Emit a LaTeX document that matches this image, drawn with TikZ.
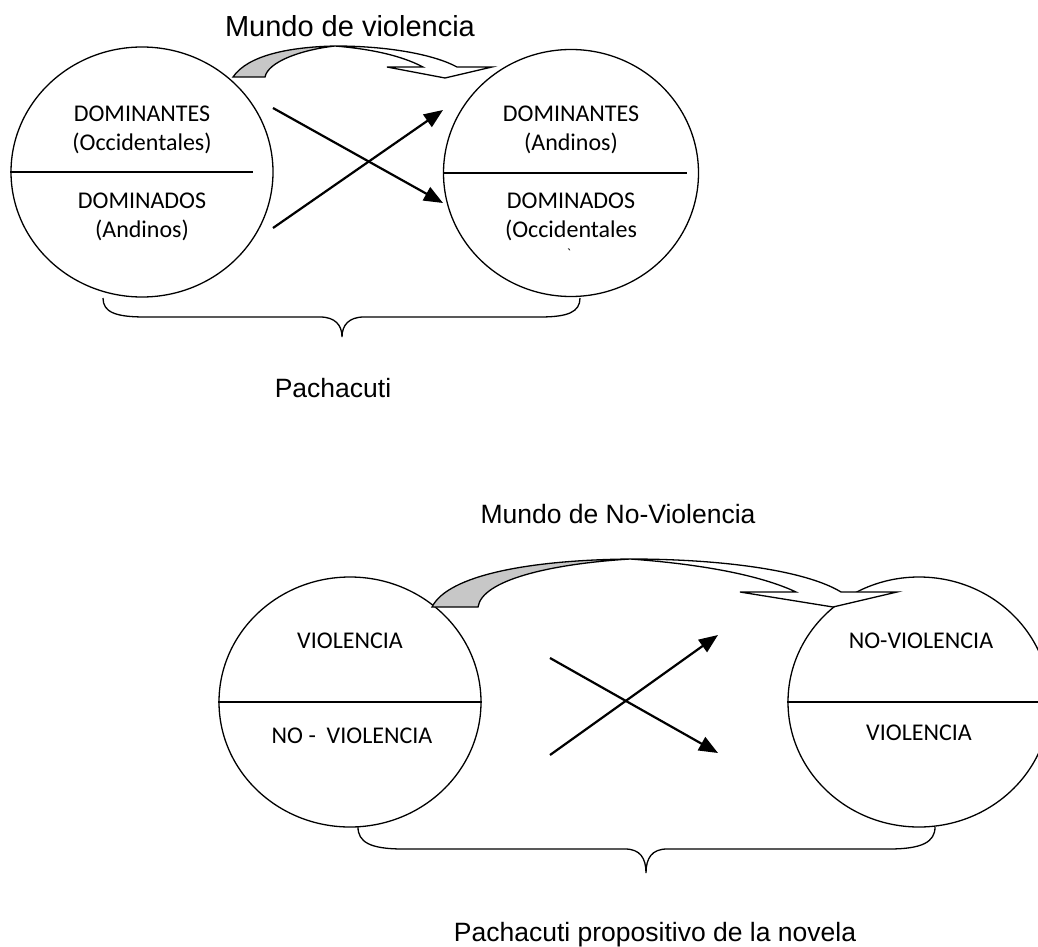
\documentclass[tikz,border=0pt]{standalone}
\usepackage{fontspec}
\setmainfont{Liberation Sans}
\newfontfamily\calibri[Ligatures=TeXOff]{Carlito}
\usetikzlibrary{shapes.geometric,arrows.meta}
\tikzset{
  mundo/.style={draw, ellipse, line width=1.3pt, inner sep=0pt},
  parte/.style={font=\calibri\fontsize{24}{28.5}\selectfont, align=center},
  titulo/.style={font=\fontsize{26.5}{30}\selectfont, anchor=base},
  cruce/.style={line width=2.2pt, -{Triangle[length=19pt,width=15pt]}},
  llave/.style={line width=1.3pt},
  giro/.style={line width=1.3pt, line join=miter}
}
\begin{document}
\begin{tikzpicture}[x=1pt,y=-1pt]
    \useasboundingbox (0,0) rectangle (1038,947) ;
    % mundo de violencia
    \node[mundo, minimum width=262pt, minimum height=250pt] (antes) at (142,172) {} ;
    \node[mundo, minimum width=255pt, minimum height=247pt] (despues) at (571,173) {} ;
    \draw[line width=1.3pt] (antes.west) -- ++(243,0) ;
    \draw[line width=1.3pt] (despues.west) -- ++(244,0) ;
    \node[parte] (domA) at (142,130) {DOMINANTES\\(Occidentales)} ;
    \node[parte] (subA) at (142,217) {DOMINADOS\\(Andinos)} ;
    \node[parte] (domB) at (571,130) {DOMINANTES\\(Andinos)} ;
    \node[parte] (subB) at (571,217) {DOMINADOS\\(Occidentales} ;
    \node[parte, font=\calibri\fontsize{14}{16}\selectfont] (tilde) at (569,254) {`} ;
    \coordinate (a1) at (273,108) ; \coordinate (b1) at (443,203) ;
    \coordinate (a2) at (273,228) ; \coordinate (b2) at (443,110) ;
    \draw[cruce] (a1) -- (b1) ;
    \draw[cruce] (a2) -- (b2) ;
    \draw[giro, fill=black!22] (233,77) .. controls (248,55) and (290,47) .. (335,46)
        .. controls (300,50) and (268,62) .. (265,77) -- cycle ;
    \draw[giro, fill=white] (335,46) .. controls (390,46) and (435,55) .. (457,67)
        -- (492,67) -- (445,78) -- (387,67) -- (423,67)
        .. controls (400,55) and (370,49) .. (335,46) -- cycle ;
    \node[titulo, font=\fontsize{29}{32}\selectfont] (mundo1) at (350,37) {Mundo de violencia} ;
    \draw[llave] (103,298) .. controls (103,312) and (115,317) .. (145,317) -- (320,317)
        .. controls (335,317) and (342,325) .. (342,337)
        .. controls (342,325) and (349,317) .. (364,317) -- (540,317)
        .. controls (568,317) and (580,312) .. (580,298) ;
    \node[titulo] (pacha1) at (333,397) {Pachacuti} ;
    % mundo de no-violencia
    \node[mundo, minimum width=262pt, minimum height=250pt] (viol) at (350,702) {} ;
    \node[mundo, minimum width=262pt, minimum height=250pt] (noviol) at (919,702) {} ;
    \draw[line width=1.3pt] (viol.west) -- (viol.east) ;
    \draw[line width=1.3pt] (noviol.west) -- (noviol.east) ;
    \node[parte] (vA) at (350,641) {VIOLENCIA} ;
    \node[parte] (nvA) at (352,736) {NO -\ \ VIOLENCIA} ;
    \node[parte] (nvB) at (921,641) {NO-VIOLENCIA} ;
    \node[parte] (vB) at (919,733) {VIOLENCIA} ;
    \coordinate (c1) at (550,658) ; \coordinate (d1) at (718,753) ;
    \coordinate (c2) at (550,755) ; \coordinate (d2) at (718,635) ;
    \draw[cruce] (c1) -- (d1) ;
    \draw[cruce] (c2) -- (d2) ;
    \draw[giro, fill=black!22] (432,607) .. controls (448,575) and (530,560) .. (630,559)
        .. controls (550,564) and (482,580) .. (478,607) -- cycle ;
    \draw[giro, fill=white] (630,559) .. controls (720,559) and (805,570) .. (841,592)
        -- (897,592) -- (833,607) -- (740,592) -- (796,592)
        .. controls (760,575) and (700,564) .. (630,559) -- cycle ;
    \node[titulo] (mundo2) at (618,523) {Mundo de No-Violencia} ;
    \draw[llave] (358,827) .. controls (358,842) and (370,849) .. (403,849) -- (625,849)
        .. controls (640,849) and (646,858) .. (646,873)
        .. controls (646,858) and (652,849) .. (667,849) -- (889,849)
        .. controls (922,849) and (935,842) .. (935,827) ;
    \node[titulo] (pacha2) at (655,941) {Pachacuti propositivo de la novela} ;
\end{tikzpicture}
\end{document}
